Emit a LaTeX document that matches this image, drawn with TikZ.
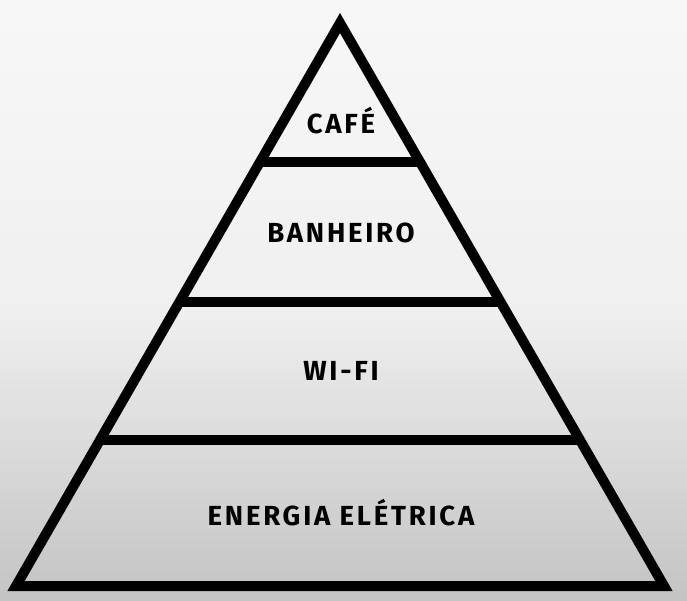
\documentclass[tikz,border=0pt]{standalone}
\usepackage{fontspec}
\setmainfont{Fira Sans}[LetterSpace=10]
\usepackage{xcolor}
\usepackage{tikz}
\usetikzlibrary{calc}

\definecolor{bgtop}{HTML}{F7F7F7}
\definecolor{bgmid}{HTML}{F0F0F0}
\definecolor{bgbot}{HTML}{C4C4C4}

\begin{document}
\begin{tikzpicture}[x=0.02cm,y=-0.02cm,line join=miter,
    wall/.style={line width=0.2cm,black},
    lvl/.style={font=\fontsize{15.7}{18}\selectfont\bfseries,inner sep=0pt}]
  \useasboundingbox (0,0) rectangle (687,600);
  % background: strips, light above and darker towards the bottom
  \foreach \i in {0,...,29} {
    \pgfmathtruncatemacro\p{100*\i/29}
    \fill[bgmid!\p!bgtop] (0,10*\i) rectangle (687,11+10*\i);
    \fill[bgbot!\p!bgmid] (0,300+10*\i) rectangle (687,311+10*\i);
  }
  \coordinate (A) at (340,23);
  \coordinate (BL) at (16,586);
  \coordinate (BR) at (664,586);
  % level bars
  \coordinate (L1) at ($(A)!0.2469!(BL)$);
  \coordinate (R1) at ($(A)!0.2469!(BR)$);
  \coordinate (L2) at ($(A)!0.4956!(BL)$);
  \coordinate (R2) at ($(A)!0.4956!(BR)$);
  \coordinate (L3) at ($(A)!0.7407!(BL)$);
  \coordinate (R3) at ($(A)!0.7407!(BR)$);
  \draw[wall] (L1) -- (R1);
  \draw[wall] (L2) -- (R2);
  \draw[wall] (L3) -- (R3);
  \draw[wall] (A) -- (BL) -- (BR) -- cycle;
  \node[lvl] (cafe) at (341,121) {CAFÉ};
  \node[lvl] (banheiro) at (341,233) {BANHEIRO};
  \node[lvl] (wifi) at (341,371) {WI-FI};
  \node[lvl] (energia) at (341,513) {ENERGIA ELÉTRICA};
\end{tikzpicture}
\end{document}
